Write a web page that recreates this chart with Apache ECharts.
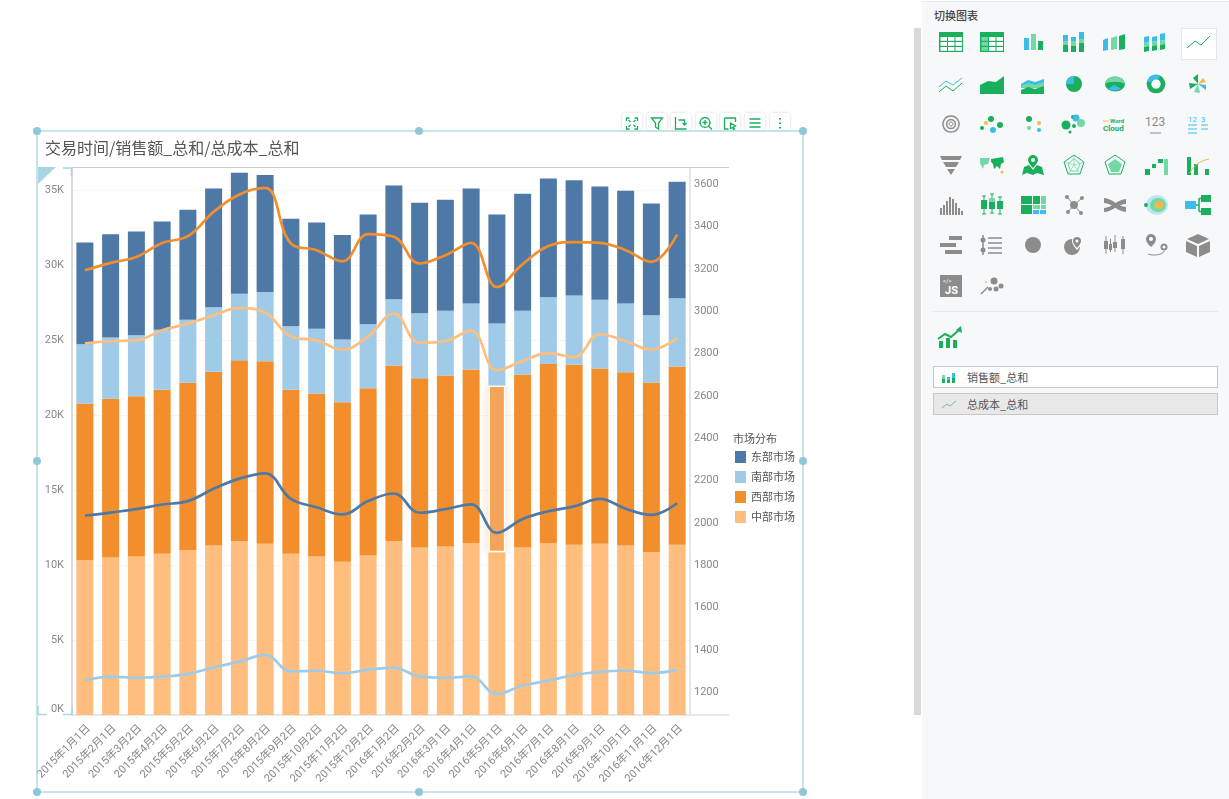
<!DOCTYPE html>
<html>
<head>
<meta charset="utf-8">
<title>交易时间/销售额_总和/总成本_总和</title>
<script src="https://cdn.jsdelivr.net/npm/echarts@6/dist/echarts.min.js"></script>
<style>
    html, body { margin: 0; padding: 0; background: #fff; overflow: hidden; font-family: "Noto Sans CJK SC", sans-serif; }
    #main { position: absolute; left: 0; top: 0; width: 1229px; height: 799px; }
    #frame { position: absolute; left: 0; top: 0; pointer-events: none; }
    .tool { position: absolute; top: 113px; width: 20px; height: 17px; background: #fff; border-radius: 3px; box-shadow: 0 0 3px rgba(0, 0, 0, .18); }
    #scroll { position: absolute; left: 914px; top: 28px; width: 7px; height: 687px; background: #d9d9d9; }
    #panel { position: absolute; left: 922px; top: 1px; width: 307px; height: 798px; background: #f7f8fa; border-top: 1px solid #e8eaee; box-sizing: border-box; }
    #panelTitle { position: absolute; left: 934px; top: 8px; font-size: 11px; line-height: 15px; color: #444; font-weight: 500; }
    .icon { position: absolute; width: 32px; height: 28px; }
    #selected { position: absolute; left: 1181px; top: 28px; width: 34px; height: 30px; background: #fff; border: 1px solid #e4e7ec; }
    #sep { position: absolute; left: 933px; top: 311px; width: 285px; height: 1px; background: #e6e8ea; }
    .field { position: absolute; left: 933px; width: 285px; height: 22px; box-sizing: border-box; border: 1px solid #c8c8c8; font-size: 11px; line-height: 20px; color: #555; padding-left: 33px; }
</style>
</head>
<body>
<div id="main"></div>
<div id="tools"></div>
<svg id="frame" width="1229" height="799"></svg>
<div id="scroll"></div>
<div id="panel"></div>
<div id="panelTitle">切换图表</div>
<div id="selected"></div>
<div id="sep"></div>
<div class="field" style="top:366px;background:#fff">销售额_总和</div>
<div class="field" style="top:393px;background:#e8e8e8">总成本_总和</div>
<div id="icons"></div>
<script>
var categories = ['2015年1月1日', '2015年2月1日', '2015年3月2日', '2015年4月2日', '2015年5月2日', '2015年6月2日',
    '2015年7月2日', '2015年8月2日', '2015年9月2日', '2015年10月2日', '2015年11月2日', '2015年12月2日',
    '2016年1月2日', '2016年2月2日', '2016年3月1日', '2016年4月1日', '2016年5月1日', '2016年6月1日',
    '2016年7月1日', '2016年8月1日', '2016年9月1日', '2016年10月1日', '2016年11月1日', '2016年12月1日'];

// 销售额_总和 (堆叠柱)
var salesEast = [6780, 6880, 6910, 7220, 7330, 7910, 8070, 7800, 7160, 7080, 6980, 7320, 7580, 7360, 7400, 7670, 7270, 7800, 7920, 7680, 7550, 7520, 7450, 7760];
var salesSouth = [3950, 4090, 4070, 4000, 4200, 4310, 4430, 4620, 4240, 4320, 4180, 4260, 4420, 4340, 4320, 4400, 4130, 4250, 4440, 4620, 4580, 4580, 4480, 4560];
var salesWest = [10450, 10580, 10680, 10930, 11160, 11580, 12060, 12180, 10930, 10860, 10640, 11160, 11710, 11280, 11400, 11580, 11120, 11530, 11960, 12000, 11690, 11550, 11320, 11880];
var salesCentral = [10320, 10500, 10570, 10750, 10990, 11300, 11590, 11410, 10750, 10570, 10210, 10630, 11590, 11170, 11230, 11450, 10850, 11170, 11450, 11350, 11410, 11300, 10850, 11350];

// 总成本_总和 (折线)
var costEast = [2035, 2049, 2065, 2087, 2103, 2161, 2209, 2234, 2114, 2074, 2040, 2103, 2139, 2048, 2065, 2088, 1953, 2019, 2055, 2078, 2114, 2067, 2038, 2093];
var costSouth = [1256, 1274, 1269, 1274, 1287, 1318, 1345, 1377, 1299, 1302, 1290, 1307, 1316, 1275, 1269, 1275, 1192, 1232, 1255, 1282, 1297, 1302, 1291, 1306];
var costWest = [3193, 3228, 3256, 3322, 3354, 3469, 3551, 3582, 3320, 3288, 3235, 3364, 3351, 3225, 3264, 3322, 3114, 3222, 3308, 3326, 3322, 3288, 3233, 3362];
var costCentral = [2848, 2858, 2862, 2910, 2941, 2981, 3015, 2993, 2881, 2862, 2818, 2881, 2989, 2850, 2859, 2908, 2721, 2765, 2802, 2783, 2891, 2859, 2818, 2873];

var marketNames = ['东部市场', '南部市场', '西部市场', '中部市场'];
var salesTicks = [0, 5000, 10000, 15000, 20000, 25000, 30000, 35000];
var costTicks = [1200, 1400, 1600, 1800, 2000, 2200, 2400, 2600, 2800, 3000, 3200, 3400, 3600];
var highlightIndex = 16; // 2016年5月1日 西部市场 被选中

var COLORS = {east: '#4e79a7', south: '#a0cbe8', west: '#f28e2b', central: '#ffbe7d'};

var myChart = echarts.init(document.getElementById('main'));

function barSeries(name, data, color) {
    return {name: name, type: 'bar', stack: 'sales', barWidth: 17, data: data, itemStyle: {color: color}};
}

function lineSeries(name, data, color) {
    return {
        name: name, type: 'line', yAxisIndex: 1, data: data, smooth: 0.4, showSymbol: false, z: 5,
        lineStyle: {color: color, width: 2.7}, itemStyle: {color: color}
    };
}

var westData = salesWest.map(function (v, i) {
    if (i !== highlightIndex) {
        return v;
    }
    return {
        value: v,
        itemStyle: {color: '#f5a65b', borderColor: '#fff', borderWidth: 1.5, shadowBlur: 8, shadowColor: 'rgba(242,142,43,.3)'}
    };
});

var axisFont = {color: '#888', fontSize: 11, fontFamily: 'Roboto, "Noto Sans CJK SC"'};

var option = {
    animation: false,
    title: [
        {text: '交易时间/销售额_总和/总成本_总和', left: 45, top: 140, padding: 0, textStyle: {fontSize: 16, fontWeight: 'normal', color: '#555', fontFamily: '"Noto Sans CJK SC"'}},
        {text: '市场分布', left: 733, top: 433, padding: 0, textStyle: {fontSize: 11, fontWeight: 'normal', color: '#555', fontFamily: '"Noto Sans CJK SC"'}}
    ],
    grid: {left: 72, top: 168, width: 618, height: 547},
    legend: {
        orient: 'vertical', left: 735, top: 451, padding: 0, itemWidth: 11, itemHeight: 12, itemGap: 8, itemStyle: {borderWidth: 0},
        selectedMode: false,
        data: marketNames.map(function (n) { return {name: n, icon: 'rect'}; }),
        textStyle: {fontSize: 11, color: '#555', padding: 0, fontFamily: '"Noto Sans CJK SC"'}
    },
    xAxis: {
        type: 'category', data: categories,
        axisLine: {lineStyle: {color: '#e6e6e6', width: 2}},
        axisTick: {show: true, alignWithLabel: true, length: 3, lineStyle: {color: '#eee'}},
        axisLabel: {interval: 0, rotate: 45, margin: 8, verticalAlign: 'top', fontSize: 11, color: '#888', fontFamily: axisFont.fontFamily}
    },
    yAxis: [{
        type: 'value', min: 0, max: 36470,
        axisLine: {show: true, lineStyle: {color: '#ccc', width: 1.5}},
        axisTick: {show: false, customValues: salesTicks},
        axisLabel: Object.assign({
            customValues: salesTicks, margin: 8, verticalAlignMinLabel: 'bottom',
            formatter: function (v) { return v / 1000 + 'K'; }
        }, axisFont),
        splitLine: {show: true, lineStyle: {color: '#f5f5f5'}}
    }, {
        type: 'value', position: 'right', min: 1093, max: 3676,
        axisLine: {show: true, lineStyle: {color: '#e6e6e6', width: 2}},
        axisTick: {show: false, customValues: costTicks},
        axisLabel: Object.assign({
            customValues: costTicks, margin: 4,
            formatter: function (v) { return String(v); }
        }, axisFont),
        splitLine: {show: false}
    }],
    series: [
        barSeries(marketNames[3], salesCentral, COLORS.central),
        barSeries(marketNames[2], westData, COLORS.west),
        barSeries(marketNames[1], salesSouth, COLORS.south),
        barSeries(marketNames[0], salesEast, COLORS.east),
        lineSeries(marketNames[0], costEast, COLORS.east),
        lineSeries(marketNames[1], costSouth, COLORS.south),
        lineSeries(marketNames[2], costWest, COLORS.west),
        lineSeries(marketNames[3], costCentral, COLORS.central)
    ]
};
myChart.setOption(option);

// ---------- 以下是页面外框和右侧面板，不是图表本身 ----------
var G = '#1aaf5d', LG = '#72d9a6', B = '#3dbbec', GR = '#8c8c8c', Y = '#f7b84b', W = '#fff';

function R(x, y, w, h, c) { return '<rect x="' + x + '" y="' + y + '" width="' + w + '" height="' + h + '" fill="' + c + '"/>'; }
function C(x, y, r, c) { return '<circle cx="' + x + '" cy="' + y + '" r="' + r + '" fill="' + c + '"/>'; }
function P(d, c) { return '<path d="' + d + '" fill="' + c + '"/>'; }
function L(d, c, w) { return '<path d="' + d + '" fill="none" stroke="' + c + '" stroke-width="' + (w || 1) + '"/>'; }
function T(x, y, s, c, t, extra) { return '<text x="' + x + '" y="' + y + '" font-size="' + s + '" fill="' + c + '" font-family="Roboto" ' + (extra || '') + '>' + t + '</text>'; }

function tableIcon(left) {
    var s = R(4, 4, 24, 20, G);
    for (var r = 0; r < 3; r++) {
        for (var k = 0; k < 3; k++) {
            s += R(5.5 + k * 7.5, 9 + r * 5, 6.5, 3.8, (left && k === 0) ? LG : W);
        }
    }
    return s;
}

var icons = [
    // 第一行
    tableIcon(false), tableIcon(true),
    R(7, 10, 5, 12, B) + R(14, 6, 5, 16, LG) + R(21, 13, 5, 9, G),
    R(5, 7, 5, 6, B) + R(5, 13, 5, 4, LG) + R(5, 17, 5, 7, G) + R(13, 9, 5, 4, B) + R(13, 13, 5, 5, LG) + R(13, 18, 5, 6, G) + R(21, 4, 5, 7, B) + R(21, 11, 5, 4, LG) + R(21, 15, 5, 9, G),
    P('M4 12l5-2v12l-5 1z', B) + P('M12 10l6-2v13l-6 1z', LG) + P('M20 8l6-2v15l-6 1z', G),
    P('M4 9l5-1v6l-5 1z', B) + P('M4 15l5-1v4l-5 1z', LG) + P('M4 19l5-1v5l-5 1z', G) + P('M12 9l5-1v5l-5 1z', B) + P('M12 14l5-1v4l-5 1z', LG) + P('M12 18l5-1v5l-5 1z', G) + P('M20 6l5-1v7l-5 1z', B) + P('M20 13l5-1v4l-5 1z', LG) + P('M20 17l5-1v5l-5 1z', G),
    L('M5 20l8-7 6 4 9-9', G, 1),
    // 第二行
    L('M4 17l7-6 7 4 9-7', B, 1) + L('M4 22l7-6 7 5 9-8', G, 1),
    P('M4 15l8-4 8 1 8-6v18h-24z', G),
    P('M4 14l7-4 7 2 9-3v8h-23z', B) + P('M4 16l7-3 7 2 9-3v6h-23z', LG) + P('M4 20l7-3 7 2 9-3v8h-23z', G),
    C(16, 14, 8, G) + P('M16 14v-8a8 8 0 0 0-8 8z', B),
    '<ellipse cx="16" cy="14" rx="10" ry="7.5" fill="' + G + '"/>' + P('M6 14a10 7.5 0 0 1 20 0c-4-3-16-3-20 0z', LG) + P('M9 19l6-4 7 3.5a10 7.5 0 0 1-13 .5z', B),
    L('M16 7a7 7 0 1 1-.01 0', G, 4.5) + L('M9.3 12a7 7 0 0 1 10-4.4', B, 4.5),
    P('M16 14l-5-6 5-4z', G) + P('M16 14l5-6 3 4z', Y) + P('M16 14l8 1 0 5z', B) + P('M16 14l2 9-6-1z', LG) + P('M16 14l-8 5-1-6z', G),
    // 第三行
    L('M16 6a8 8 0 1 1-.01 0', GR, 1.5) + L('M16 9.500a4.500 4.500 0 1 1-.01 0', GR, 1.5) + L('M16 12a2 2 0 1 1-.01 0', GR, 1),
    C(6, 18, 2, G) + C(10, 13, 2, Y) + C(15, 9, 3, G) + C(17, 20, 3, B) + C(24, 15, 3, G),
    C(12, 9, 3, G) + C(12, 18, 2, LG) + C(22, 13, 2, Y) + C(22, 20, 2, B),
    C(8, 15, 4.5, G) + C(15, 7, 2, G) + C(18, 8, 3.5, B) + C(16, 16, 2, G) + C(23, 13, 4, LG) + C(12, 22, 1.5, G),
    T(11, 13, 6, G, 'Word', 'font-weight="700"') + T(4, 21, 8, G, 'Cloud', 'font-weight="700"') + L('M4 11h6', Y, 1),
    T(5, 16, 12, GR, '123') + L('M10 23h11', GR, 1),
    T(6, 12, 8, B, '12') + T(19, 12, 8, B, '3') + L('M6 15h9M19 15h7M6 19h9M19 19h7M6 23h9', B, 1),
    // 第四行
    P('M5 5h22l-2 4h-18z', GR) + P('M8 11h16l-3 5h-10z', GR) + P('M12 18h8l-4 6z', GR),
    P('M4 7h10l-2 6-4 1-1 4-3-6z', LG) + P('M15 8l12-2 1 5-3 2-1 5-3-3-3 3-1-5-2-2z', G) + C(26, 21, 1.500, Y),
    P('M7 16l5-2 4 5 4-5 5 2 2 8-7-2-4 2-6-2-5 2z', G) + P('M16 4a5 5 0 0 1 5 5c0 3-5 8-5 8s-5-5-5-8a5 5 0 0 1 5-5z', G) + C(16, 9, 2, W),
    L('M16 4l10 7-4 12h-12l-4-12z', G, 1) + L('M16 8l6 4.500-2.500 7.500h-7l-2.500-7.500z', LG, 1) + L('M16 14v-10M16 14l10-3M16 14l6 9M16 14l-6 9M16 14l-10-3', LG, .7),
    L('M16 4l10 7-4 12h-12l-4-12z', G, 1) + P('M16 8l7 5-3 8h-8l-3-8z', LG),
    R(5, 18, 5, 6, G) + R(12, 13, 4, 4, G) + R(18, 8, 5, 4, G) + R(24, 8, 4, 16, LG),
    R(5, 6, 4, 18, G) + R(12, 13, 4, 11, G) + R(23, 18, 4, 6, G) + L('M8 22c4-8 10-12 19-14', Y, 1),
    // 第五行
    R(5, 17, 2, 7, GR) + R(8, 14, 2, 10, GR) + R(11, 10, 2, 14, GR) + R(14, 6, 2, 18, GR) + R(17, 8, 2, 16, GR) + R(20, 12, 2, 12, GR) + R(23, 17, 2, 7, GR) + R(26, 20, 2, 4, GR),
    L('M8 5v18M16 3v19M24 6v17M6 5h4M14 3h4M22 6h4M6 23h4M14 22h4M22 23h4', G, 1) + R(5, 9, 6, 9, G) + R(13, 7, 6, 11, LG) + R(13, 11, 6, 7, G) + R(21, 10, 6, 8, G),
    R(4, 5, 11, 8, G) + R(16, 5, 7, 8, G) + R(24, 5, 5, 8, LG) + R(4, 14, 11, 9, G) + R(16, 14, 7, 4, LG) + R(24, 14, 5, 4, LG) + R(16, 19, 6, 4, B) + R(23, 19, 6, 4, B),
    L('M16 14l-7-8M16 14l8-7M16 14l7 8M16 14l-6 7', GR, 1) + C(16, 14, 4, GR) + C(9, 6, 2, GR) + C(24, 7, 2, GR) + C(23, 22, 2, GR) + C(10, 21, 2, GR),
    P('M5 7c8 0 14 9 22 9v5c-8 0-14-9-22-9z', GR) + P('M5 17c8 0 14-9 22-9v5c-8 0-14 8-22 8z', GR),
    '<ellipse cx="17" cy="14" rx="11" ry="10" fill="#b7e7ef"/><ellipse cx="18" cy="14" rx="8" ry="7" fill="' + LG + '"/><ellipse cx="19" cy="14" rx="4.500" ry="4" fill="' + Y + '"/>' + C(6, 14, 2, G),
    R(3, 10, 11, 8, B) + R(19, 4, 10, 7, G) + R(19, 17, 10, 7, G) + L('M14 14h3M17 7.500v13M17 7.500h2M17 20.500h2', G, 1.500),
    // 第六行
    R(14, 5, 13, 4, GR) + R(5, 12, 16, 4, GR) + R(10, 19, 17, 4, GR),
    L('M7 4v20M12 7h14M12 12h14M12 17h14M12 22h14', GR, 1.500) + C(7, 9, 2.500, GR) + C(7, 19, 2.500, GR),
    C(16, 14, 8, GR),
    C(14, 16, 8, GR) + P('M19 5a5 5 0 0 1 5 5c0 4-5 9-5 9s-5-5-5-9a5 5 0 0 1 5-5z', W) + P('M19 6a4 4 0 0 1 4 4c0 3-4 7-4 7s-4-4-4-7a4 4 0 0 1 4-4z', GR) + C(19, 10, 1.500, W),
    L('M7 5v18M16 4v17M24 5v18', GR, 1) + R(5, 10, 4, 8, GR) + R(14, 11, 4, 6, GR) + R(22, 8, 4, 10, GR) + L('M11.500 8v13', GR, 1) + R(10, 13, 3, 6, GR),
    P('M11 3a5 5 0 0 1 5 5c0 4-5 8-5 8s-5-4-5-8a5 5 0 0 1 5-5z', GR) + C(11, 8, 2, W) + C(24, 16, 3.500, GR) + C(24, 16, 1.500, W) + L('M24 20c0 4-12 5-16 3', GR, 1),
    P('M16 3l11 5-11 5-11-5z', GR) + P('M4 10l11 5v11l-11-5z', GR) + P('M28 10l-11 5v11l11-5z', GR),
    // 第七行
    R(5, 3, 22, 22, GR) + T(8, 10.5, 6, W, '&lt;/&gt;') + T(10, 22, 11, W, 'JS', 'font-weight="700"'),
    L('M5 22l7-7', GR, 1.500) + C(18, 9, 3.500, GR) + C(25, 14, 2.500, GR) + C(20, 17, 2.500, GR) + C(14, 17, 2, GR) + C(10, 10, 1, Y)
];

function svgIcon(content, x, y) {
    return '<svg class="icon" style="left:' + x + 'px;top:' + y + 'px" viewBox="0 0 32 28">' + content + '</svg>';
}

var colX = [951, 992, 1033, 1074, 1115, 1156, 1198];
var rowY = [42, 84, 124, 165, 205, 245, 286];
var iconHtml = '';
for (var i = 0; i < icons.length; i++) {
    iconHtml += svgIcon(icons[i], colX[i % 7] - 16, rowY[Math.floor(i / 7)] - 14);
}
// 组合图标 + 字段图标
iconHtml += svgIcon(R(5, 17, 4, 7, G) + R(12, 14, 4, 10, G) + R(19, 16, 4, 8, G) + L('M4 15l7-5 6 3 9-8', G, 2) + P('M27 2l1 7-6-3z', G), 934, 324);
iconHtml += svgIcon(R(8, 12, 3, 8, LG) + R(8, 16, 3, 4, G) + R(13, 14, 3, 6, B) + R(13, 17, 3, 3, G) + R(18, 10, 3, 10, B) + R(18, 15, 3, 5, G), 934, 363);
iconHtml += svgIcon(L('M8 18l5-4 3 2 6-5', '#6fbf8f', 1), 934, 390);
document.getElementById('icons').innerHTML = iconHtml;

// 选中框
var frame = '<rect x="37" y="131" width="766" height="661" fill="none" stroke="#b4dbe6" stroke-width="1.5"/>';
var handles = [[37, 131], [419, 131], [803, 131], [37, 461], [803, 461], [37, 792], [419, 792], [803, 792]];
handles.forEach(function (h) {
    frame += '<circle cx="' + h[0] + '" cy="' + h[1] + '" r="4" fill="#8fc6d8"/>';
});
frame += '<path d="M38 167h18l-18 17z" fill="#a9d5e3"/>';
frame += '<path d="M63 168h8.500v8M38 706v8.500h9M63 714.500h9v-8" fill="none" stroke="#a9d5e3" stroke-width="1.500"/>';
frame += '<path d="M72 167.500h657" stroke="#ccc" stroke-width="1" fill="none"/>';
frame += '<path d="M689 715h40" stroke="#e6e6e6" stroke-width="2" fill="none"/>';
document.getElementById('frame').innerHTML = frame;

// 顶部工具按钮
var toolX = [632, 657, 681, 706, 730, 755, 780];
var toolPaths = [
    'M3 6v-3h3M11 3h3v3M3 11v3h3M14 11v3h-3M5 5l2 2M12 5l-2 2M5 12l2-2M12 12l-2-2',
    'M3 3h11l-4 5v6l-3-2v-4z',
    'M3 2v12h11M6 5h6v5M10 8l2 2 2-2',
    'M7.500 2.500a5 5 0 1 1-.01 0M11 11l3.500 3.500M5 7.500h5M7.500 5v5',
    'M3 3h11v4M3 3v11h4M9 8l5 3-2 1 1 2-1 .5-1-2-2 1z',
    'M3 4h11M3 8h11M3 12h11',
    'M8.500 3v1.500M8.500 7.500v1.500M8.500 12v1.500'
];
var toolHtml = '';
toolX.forEach(function (x, i) {
    toolHtml += '<div class="tool" style="left:' + (x - 10) + 'px"><svg width="20" height="17" viewBox="-1.500 0 20 17">' + L(toolPaths[i], G, i === 6 ? 2 : 1.3) + '</svg></div>';
});
document.getElementById('tools').innerHTML = toolHtml;
</script>
</body>
</html>
